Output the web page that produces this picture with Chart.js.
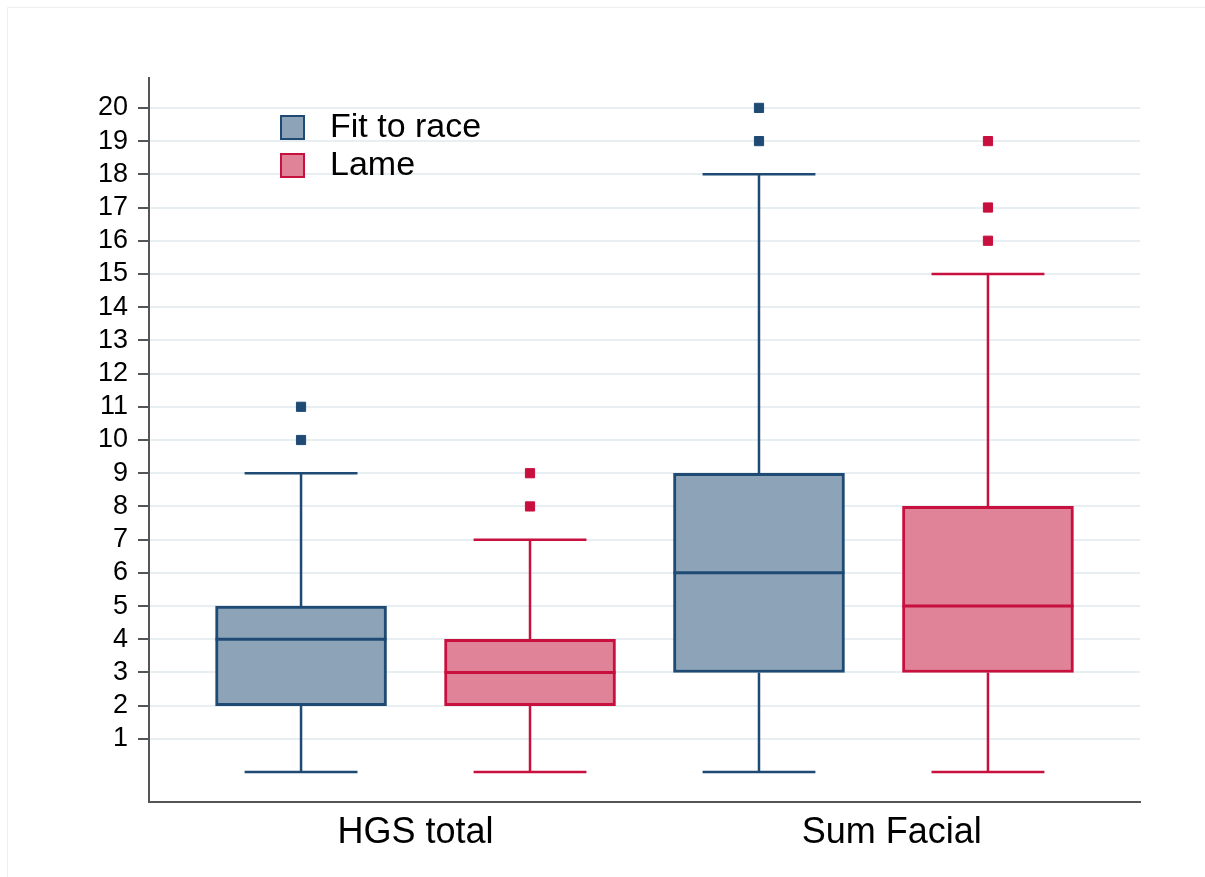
<!DOCTYPE html>
<html>
<head>
<meta charset="utf-8">
<title>HGS total and Sum Facial by group</title>
<script src="https://cdn.jsdelivr.net/npm/chart.js@4/dist/chart.umd.min.js"></script>
<style>
  html, body { margin: 0; padding: 0; background: #ffffff; }
  #wrap { position: relative; width: 1205px; height: 877px; }
  canvas { display: block; }
</style>
</head>
<body>
<div id="wrap"><canvas id="chart" width="1205" height="877"></canvas></div>
<script>
// Groups along the x axis and the two series compared in each group
const categories = ['HGS total', 'Sum Facial'];
const seriesNames = ['Fit to race', 'Lame'];

// Fit to race: five-number summaries and outlying values per group
const fitLow = [0, 0];
const fitQ1 = [2, 3];
const fitMedian = [4, 6];
const fitQ3 = [5, 9];
const fitHigh = [9, 18];
const fitOutliers = [[10, 11], [19, 20]];

// Lame: five-number summaries and outlying values per group
const lameLow = [0, 0];
const lameQ1 = [2, 3];
const lameMedian = [3, 5];
const lameQ3 = [4, 8];
const lameHigh = [7, 15];
const lameOutliers = [[8, 9], [16, 17, 19]];

// Value axis tick labels
const yTicks = [1, 2, 3, 4, 5, 6, 7, 8, 9, 10, 11, 12, 13, 14, 15, 16, 17, 18, 19, 20];

const FONT = '"Liberation Sans", Arial, Helvetica, sans-serif';
const fitColors = { line: '#1f4a73', fill: '#8ca3b8' };
const lameColors = { line: '#c8103f', fill: '#e08399' };

// Each group holds two boxes side by side; slot index = group * 2 + series
const slot = (g, s) => g * 2 + s;
const groupLabelAt = [0.5, 2.58];

function boxDataset(name, s, colors, low, q1, med, q3, high) {
  return {
    type: 'bar',
    label: name,
    data: categories.map((c, g) => ({ x: slot(g, s), y: [q1[g], q3[g]] })),
    stats: categories.map((c, g) => ({ low: low[g], median: med[g], high: high[g] })),
    backgroundColor: colors.fill,
    borderColor: colors.line,
    borderWidth: 3,
    borderSkipped: false,
    barThickness: 171,
    grouped: false,
    order: 2
  };
}

function outlierDataset(name, s, colors, outliers) {
  const pts = [];
  outliers.forEach((vals, g) => vals.forEach(v => pts.push({ x: slot(g, s), y: v })));
  return {
    type: 'scatter',
    label: name + ' outliers',
    data: pts,
    pointStyle: 'rect',
    pointRadius: 6.5,
    pointBackgroundColor: colors.line,
    pointBorderColor: colors.line,
    pointBorderWidth: 1,
    showLine: false,
    order: 1
  };
}

// Whiskers, caps and median lines drawn on top of the floating bars
const boxWhiskers = {
  id: 'boxWhiskers',
  afterDatasetsDraw(chart) {
    const ctx = chart.ctx;
    const y = chart.scales.y;
    chart.data.datasets.forEach((ds, di) => {
      if (!ds.stats) return;
      const meta = chart.getDatasetMeta(di);
      meta.data.forEach((bar, i) => {
        const st = ds.stats[i];
        const cx = bar.x;
        const half = bar.width / 2;
        const capHalf = bar.width * 0.33;
        const yLow = y.getPixelForValue(st.low);
        const yHigh = y.getPixelForValue(st.high);
        const yMed = y.getPixelForValue(st.median);
        const yQ1 = y.getPixelForValue(ds.data[i].y[0]);
        const yQ3 = y.getPixelForValue(ds.data[i].y[1]);
        ctx.save();
        ctx.strokeStyle = ds.borderColor;
        ctx.lineWidth = 3;
        ctx.beginPath();
        // median
        ctx.moveTo(cx - half, yMed);
        ctx.lineTo(cx + half, yMed);
        ctx.stroke();
        ctx.lineWidth = 2.5;
        ctx.beginPath();
        // upper whisker and cap
        ctx.moveTo(cx, yQ3);
        ctx.lineTo(cx, yHigh);
        ctx.moveTo(cx - capHalf, yHigh);
        ctx.lineTo(cx + capHalf, yHigh);
        // lower whisker and cap
        ctx.moveTo(cx, yQ1);
        ctx.lineTo(cx, yLow);
        ctx.moveTo(cx - capHalf, yLow);
        ctx.lineTo(cx + capHalf, yLow);
        ctx.stroke();
        ctx.restore();
      });
    });
  }
};

// Legend placed inside the plot, upper left
const insideLegend = {
  id: 'insideLegend',
  afterDraw(chart) {
    const ctx = chart.ctx;
    const area = chart.chartArea;
    const boxes = chart.data.datasets.filter(d => d.stats);
    const x0 = area.left + 131;
    const y0 = area.top + 37;
    const pitch = 38;
    ctx.save();
    boxes.forEach((ds, i) => {
      const top = y0 + i * pitch;
      ctx.fillStyle = ds.backgroundColor;
      ctx.fillRect(x0, top, 25, 25);
      ctx.strokeStyle = ds.borderColor;
      ctx.lineWidth = 2;
      ctx.strokeRect(x0 + 1, top + 1, 23, 23);
      ctx.fillStyle = '#000000';
      ctx.font = '34px ' + FONT;
      ctx.textBaseline = 'middle';
      ctx.textAlign = 'left';
      ctx.fillText(ds.label, x0 + 50, top + 13);
    });
    ctx.restore();
  }
};

// Thin frame along the top and left edges of the figure
const figureFrame = {
  id: 'figureFrame',
  beforeDraw(chart) {
    const ctx = chart.ctx;
    ctx.save();
    ctx.fillStyle = '#ffffff';
    ctx.fillRect(0, 0, chart.width, chart.height);
    ctx.strokeStyle = '#eeeeee';
    ctx.lineWidth = 1;
    ctx.beginPath();
    ctx.moveTo(7.5, chart.height);
    ctx.lineTo(7.5, 7.5);
    ctx.lineTo(chart.width, 7.5);
    ctx.stroke();
    ctx.restore();
  }
};

new Chart(document.getElementById('chart'), {
  type: 'bar',
  data: {
    datasets: [
      boxDataset(seriesNames[0], 0, fitColors, fitLow, fitQ1, fitMedian, fitQ3, fitHigh),
      boxDataset(seriesNames[1], 1, lameColors, lameLow, lameQ1, lameMedian, lameQ3, lameHigh),
      outlierDataset(seriesNames[0], 0, fitColors, fitOutliers),
      outlierDataset(seriesNames[1], 1, lameColors, lameOutliers)
    ]
  },
  options: {
    responsive: false,
    animation: false,
    layout: { padding: { top: 78, right: 65, left: 0, bottom: 0 } },
    plugins: {
      legend: { display: false },
      tooltip: { enabled: false },
      title: { display: false }
    },
    scales: {
      x: {
        type: 'linear',
        offset: false,
        bounds: 'data',
        min: -0.664,
        max: 3.664,
        afterBuildTicks: s => { s.ticks = groupLabelAt.map(v => ({ value: v })); },
        afterFit: s => { s.height = 75; },
        grid: { display: false, drawTicks: false, offset: false },
        border: { display: true, color: '#555555', width: 2 },
        ticks: {
          padding: 9,
          color: '#000000',
          font: { family: FONT, size: 36 },
          maxRotation: 0,
          autoSkip: false,
          callback: (v, i) => categories[i]
        }
      },
      y: {
        type: 'linear',
        min: -0.9,
        max: 20.9,
        afterBuildTicks: s => { s.ticks = yTicks.map(v => ({ value: v })); },
        afterFit: s => { s.width = 149; },
        grid: {
          color: '#e8eff2',
          lineWidth: 2,
          tickColor: '#555555',
          tickLength: 11,
          tickWidth: 2
        },
        border: { display: true, color: '#555555', width: 2 },
        ticks: {
          padding: 10,
          color: '#000000',
          font: { family: FONT, size: 27 },
          autoSkip: false,
          callback: v => String(v)
        }
      }
    }
  },
  plugins: [figureFrame, boxWhiskers, insideLegend]
});
</script>
</body>
</html>
